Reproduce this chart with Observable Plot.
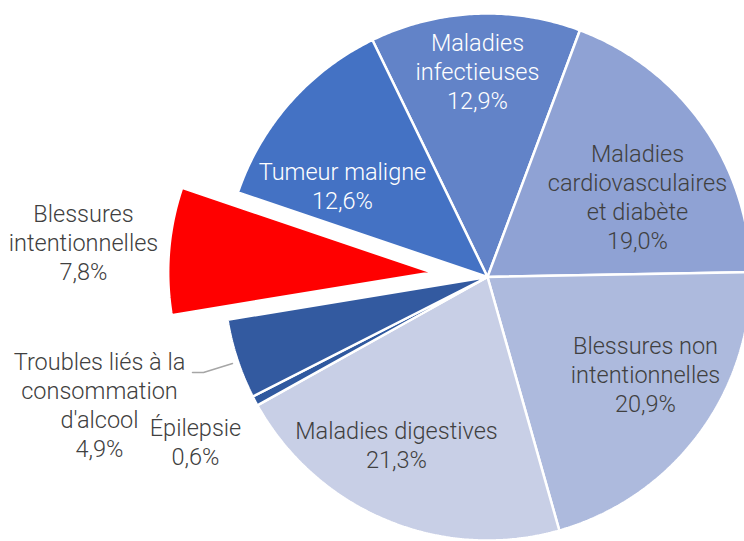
<!DOCTYPE html>
<html><head><meta charset="utf-8">
<script src="https://cdn.jsdelivr.net/npm/d3@7"></script>
<script src="https://cdn.jsdelivr.net/npm/@observablehq/plot@0.6"></script>
<style>html,body{margin:0;padding:0;background:#fff;overflow:hidden}svg{display:block}</style>
</head><body><div id="chart"></div>
<script>
// ---- data (clockwise from the top) ----
const categories = ["Maladies infectieuses", "Maladies cardiovasculaires et diabète", "Blessures non intentionnelles", "Maladies digestives", "Épilepsie", "Troubles liés à la consommation d'alcool", "Blessures intentionnelles", "Tumeur maligne"];
const labelNames = ["Maladies\ninfectieuses", "Maladies\ncardiovasculaires\net diabète", "Blessures non\nintentionnelles", "Maladies digestives", "Épilepsie", "Troubles liés à la\nconsommation\nd'alcool", "Blessures\nintentionnelles", "Tumeur maligne"];
const values = [12.9, 19.0, 20.9, 21.3, 0.6, 4.9, 7.8, 12.6];
const exploded = [false, false, false, false, false, false, true, false];

// ---- styles / layout ----
const colors = ["#6283C8", "#8FA2D4", "#ADBADD", "#C8CFE6", "#30599F", "#335AA0", "#FF0000", "#4472C4"];
const labelColors = ["#ffffff", "#404040", "#404040", "#404040", "#404040", "#404040", "#404040", "#ffffff"];
const W = 744, H = 541, CX = 487, CY = 276.5, R = 263.5, EXPLODE = 56;
const START = -25.9 * Math.PI / 180;
// label block centres in pixels
const labelPx = [[477, 70], [637, 196], [645, 373], [396, 444], [195, 440.5], [99, 404], [83, 241], [342, 185]];
const leaderPx = [[192, 372], [203, 372], [232, 363]];

const ux = px => (px - CX) / R, uy = py => (py - CY) / R;

const arcs = d3.pie().sort(null).value(d => d).startAngle(START).endAngle(START + 2 * Math.PI)(values);
const pts = [];
arcs.forEach((a, i) => {
  const mid = (a.startAngle + a.endAngle) / 2;
  const off = exploded[i] ? EXPLODE / R : 0;
  const ox = off * Math.sin(mid), oy = -off * Math.cos(mid);
  pts.push({i, x: ox, y: oy});
  const n = Math.max(2, Math.ceil((a.endAngle - a.startAngle) / (Math.PI / 360)));
  for (let k = 0; k <= n; k++) {
    const t = a.startAngle + (a.endAngle - a.startAngle) * k / n;
    pts.push({i, x: ox + Math.sin(t), y: oy - Math.cos(t)});
  }
});

const labels = categories.map((c, i) => ({
  text: labelNames[i] + "\n" + values[i].toFixed(1).replace(".", ",") + "%",
  x: ux(labelPx[i][0]), y: uy(labelPx[i][1]), color: labelColors[i]
}));
const leader = leaderPx.map(([x, y]) => ({x: ux(x), y: uy(y)}));

const chart = Plot.plot({
  width: W, height: H, margin: 0,
  x: {domain: [ux(0), ux(W)], axis: null},
  y: {domain: [uy(H), uy(0)], axis: null},
  color: {type: "identity"},
  style: {background: "#fff", overflow: "hidden"},
  marks: [
    Plot.line(pts, {x: "x", y: "y", z: "i", fill: d => colors[d.i], stroke: "#ffffff", strokeWidth: 2.5, strokeOpacity: 1, strokeLinejoin: "miter", curve: "linear-closed", clip: true}),
    Plot.line(leader, {x: "x", y: "y", stroke: "#A6A6A6", strokeWidth: 1.5}),
    Plot.text(labels, {x: "x", y: "y", text: "text", fill: "color", fontSize: 23.5, lineHeight: 1.23, fontFamily: "Roboto, Liberation Sans, sans-serif", fontWeight: 300, textAnchor: "middle"})
  ]
});
document.getElementById("chart").appendChild(chart);
</script>
</body></html>
